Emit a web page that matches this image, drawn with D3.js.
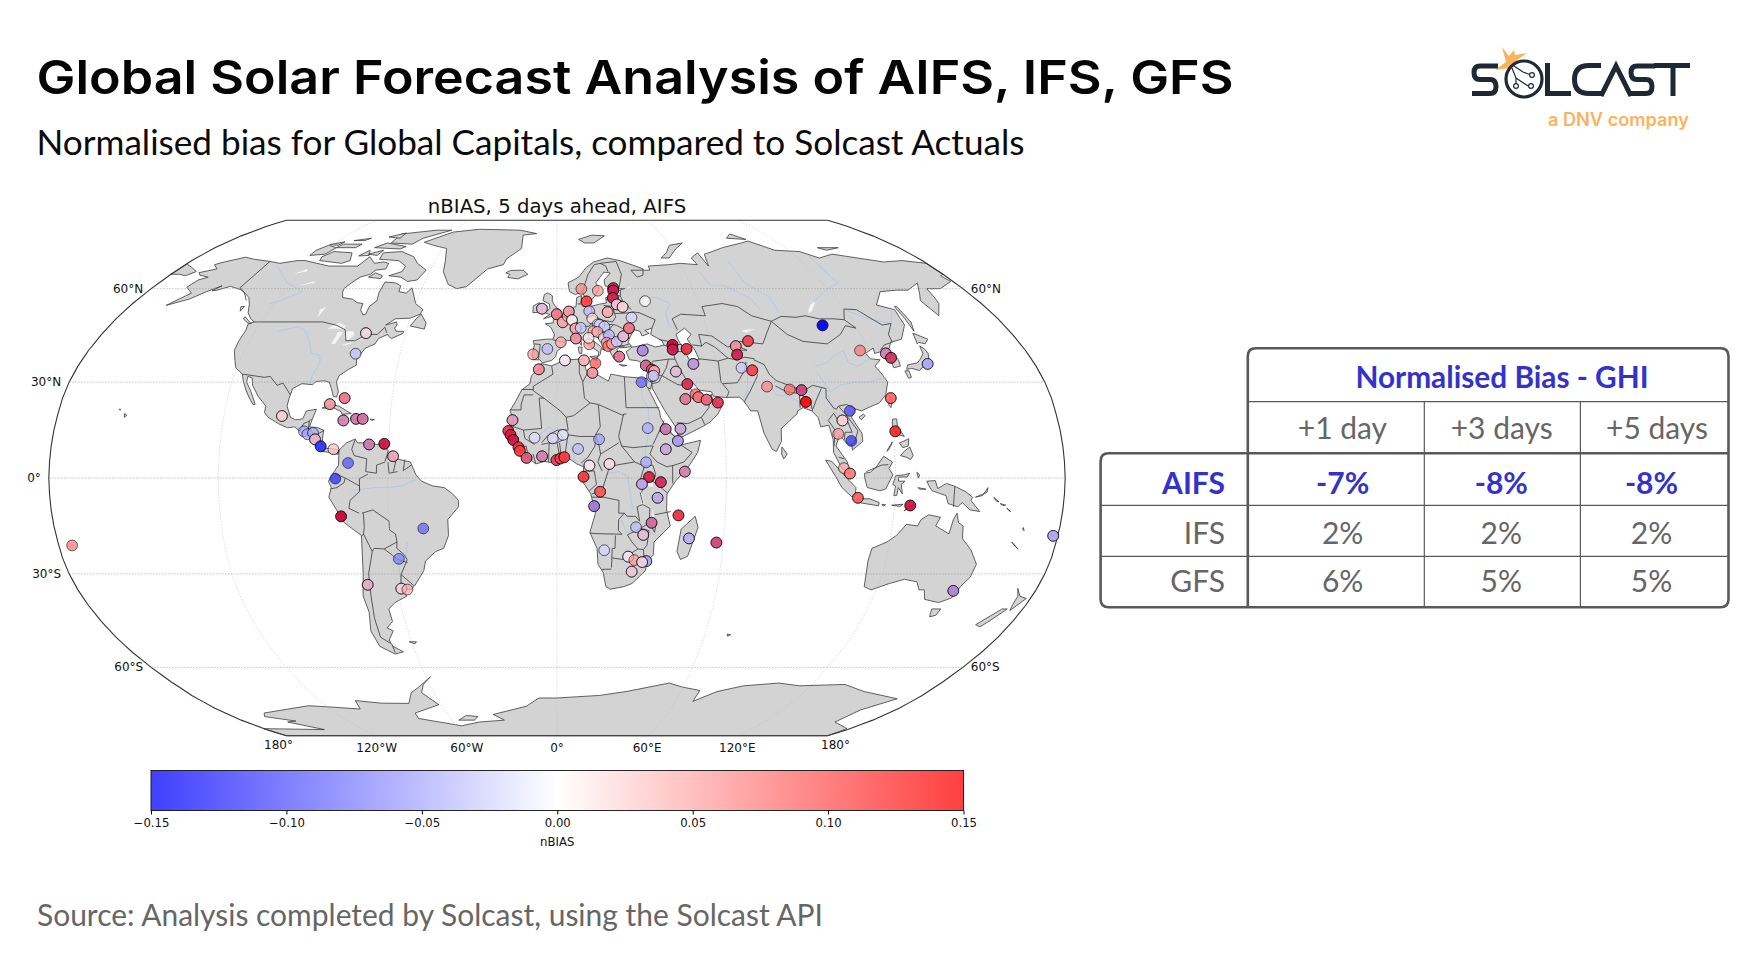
<!DOCTYPE html>
<html>
<head>
<meta charset="utf-8">
<title>Global Solar Forecast Analysis</title>
<script src="https://cdn.jsdelivr.net/npm/d3@7"></script>
<style>
  body { margin: 0; background: #fff; }
  text { font-family: "Lato", sans-serif; }
  .mpl text, text.mpl { font-family: "DejaVu Sans", sans-serif; }
</style>
</head>
<body>
<div id="chart"></div>
<script>
// ---- text ----
const titleText = "Global Solar Forecast Analysis of AIFS, IFS, GFS";
const subtitleText = "Normalised bias for Global Capitals, compared to Solcast Actuals";
const sourceText = "Source: Analysis completed by Solcast, using the Solcast API";
const mapTitle = "nBIAS, 5 days ahead, AIFS";
const barLabel = "nBIAS";

// ---- table ----
const tableHeader = "Normalised Bias - GHI";
const horizons = ["+1 day", "+3 days", "+5 days"];
const models = ["AIFS", "IFS", "GFS"];
const aifsBias = ["-7%", "-8%", "-8%"];
const ifsBias = ["2%", "2%", "2%"];
const gfsBias = ["6%", "5%", "5%"];

// ---- axes ----
const barTicks = [-0.15, -0.10, -0.05, 0, 0.05, 0.10, 0.15];
const latTicks = [60, 30, 0, -30, -60];
const lonTicks = [-120, -60, 0, 60, 120];

// ---- capitals: name, lon, lat, bias, bias of the marker lying under it ----
const capitalsAmericas = [
  ["Ottawa", -75.7, 45.4, 0.02, -0.04], ["Washington", -77, 38.9, -0.035],
  ["Havana", -82.4, 23.1, 0.07, -0.03], ["Nassau", -77.3, 25, 0.09, -0.05],
  ["Kingston", -76.8, 18, 0.06, -0.12], ["Port-au-Prince", -72.3, 18.5, 0.06, -0.15], ["Santo Domingo", -69.9, 18.5, 0.07, -0.13],
  ["Mexico City", -99.1, 19.4, 0.03, -0.02], ["Guatemala", -90.5, 14.6, -0.05], ["San Salvador", -89.2, 13.7, -0.055],
  ["Tegucigalpa", -87.2, 14.1, -0.05], ["Managua", -86.3, 12.1, 0.04, -0.06], ["San Jose", -84.1, 9.9, -0.13, -0.08],
  ["Panama", -79.5, 9, 0.035], ["Bogota", -74.1, 4.7, -0.1], ["Quito", -78.5, -0.2, -0.125],
  ["Lima", -77, -12, 0.15, -0.15], ["Caracas", -66.9, 10.5, 0.06, -0.15], ["Port of Spain", -61.5, 10.7, 0.14, -0.14],
  ["Georgetown", -58.2, 6.8, 0.05, -0.06], ["Brasilia", -47.9, -15.8, -0.09], ["Asuncion", -57.6, -25.3, -0.075],
  ["Santiago", -70.7, -33.4, 0.04, -0.08], ["Buenos Aires", -58.4, -34.6, 0.025, -0.04], ["Montevideo", -56.2, -34.9, 0.05],
  ["Nukualofa", -175.2, -21.1, 0.08]
];
const capitalsEurope = [
  ["Dublin", -6.3, 53.3, 0.03, -0.08], ["London", -0.1, 51.5, 0.09, -0.03], ["Paris", 2.3, 48.9, 0.06, -0.02],
  ["Brussels", 4.4, 50.8, 0.05], ["Amsterdam", 4.9, 52.4, 0.07, -0.02], ["Lisbon", -9.1, 38.7, 0.06],
  ["Madrid", -3.7, 40.4, -0.04], ["Andorra", 1.5, 42.5, 0.05], ["Oslo", 10.8, 59.9, 0.07], ["Copenhagen", 12.6, 55.7, 0.13, 0.05],
  ["Stockholm", 18, 59.3, 0.06], ["Helsinki", 25, 60.2, 0.12, -0.12], ["Tallinn", 24.8, 59.4, 0.13, -0.15],
  ["Riga", 24.1, 56.9, 0.13, -0.13], ["Vilnius", 25.3, 54.7, 0.03, -0.06], ["Minsk", 27.6, 53.9, 0.03, -0.01],
  ["Moscow", 37.6, 55.8, 0.002], ["Warsaw", 21, 52.2, 0.06, -0.01], ["Berlin", 13.4, 52.5, -0.04],
  ["Prague", 14.4, 50.1, 0.02], ["Vienna", 16.4, 48.2, -0.02], ["Bratislava", 17.1, 48.1, -0.03], ["Budapest", 19, 47.5, -0.03],
  ["Kyiv", 30.5, 50.4, -0.025], ["Luxembourg", 6.1, 49.6, 0.01, -0.02], ["Bern", 7.4, 46.9, 0.06, -0.02], ["Vaduz", 9.5, 47.1, -0.03],
  ["Ljubljana", 14.5, 46, 0.05], ["Zagreb", 16, 45.8, 0.05], ["Sarajevo", 18.4, 43.9, -0.02], ["Belgrade", 20.5, 44.8, -0.04],
  ["Podgorica", 19.3, 42.4, 0.07], ["Tirana", 19.8, 41.3, 0.09], ["Skopje", 21.4, 42, 0.05], ["Sofia", 23.3, 42.7, -0.03],
  ["Bucharest", 26.1, 44.4, 0.03, -0.08], ["Chisinau", 28.8, 47, 0.09, -0.05], ["Athens", 23.7, 38, 0.08, -0.08],
  ["Rome", 12.5, 41.9, 0.06], ["Monaco", 7.4, 43.7, 0.07, -0.05], ["San Marino", 12.4, 43.9, 0.01], ["Malta", 14.5, 35.9, 0.1]
];
const capitalsAfrica = [
  ["Rabat", -6.8, 34, 0.08, -0.02], ["Algiers", 3, 36.8, 0.01, -0.03], ["Tunis", 10.2, 36.8, 0.05, -0.02], ["Tripoli", 13.2, 32.9, 0.07, -0.03],
  ["Cairo", 31.2, 30, -0.09], ["Nouakchott", -16, 18.1, 0.05, -0.1], ["Dakar", -17.4, 14.7, 0.13, -0.08], ["Banjul", -16.6, 13.5, 0.14, -0.12],
  ["Bissau", -15.6, 11.9, 0.14, -0.13], ["Conakry", -13.7, 9.6, 0.14, -0.05], ["Freetown", -13.2, 8.5, 0.14, 0.02], ["Monrovia", -10.8, 6.3, 0.1, -0.1],
  ["Bamako", -8, 12.6, -0.02], ["Yamoussoukro", -5.3, 6.8, 0.06, -0.13], ["Ouagadougou", -1.5, 12.4, -0.025], ["Niamey", 2.1, 13.5, -0.015],
  ["Accra", -0.2, 5.6, 0.12, -0.08], ["Lome", 1.2, 6.1, 0.13, -0.05], ["Porto-Novo", 2.6, 6.5, 0.14, 0.02], ["Abuja", 7.5, 9.1, -0.04],
  ["NDjamena", 15, 12.1, -0.055], ["Yaounde", 11.5, 3.9, 0.01, -0.03], ["Bangui", 18.6, 4.4, 0.02, -0.03], ["Khartoum", 32.5, 15.6, -0.05],
  ["Juba", 31.6, 4.9, -0.05], ["Asmara", 38.9, 15.3, 0.06, -0.15], ["Djibouti", 43.1, 11.6, -0.06, 0.05], ["Addis Ababa", 38.7, 9, -0.04, 0.1],
  ["Mogadishu", 45.3, 2, 0.06, -0.13], ["Libreville", 9.4, 0.4, 0.14, -0.03], ["Kampala", 32.6, 0.3, 0.14, -0.1], ["Kigali", 30.1, -1.9, -0.05, 0.06],
  ["Nairobi", 36.8, -1.3, 0.12, -0.15], ["Brazzaville", 15.3, -4.3, 0.11, 0.06], ["Luanda", 13.2, -8.8, -0.07, 0.12], ["Dodoma", 35.7, -6.2, -0.05, 0.05],
  ["Lilongwe", 33.8, -14, 0.07, -0.15], ["Lusaka", 28.3, -15.4, -0.04], ["Harare", 31, -17.8, 0.03, -0.08], ["Windhoek", 17.1, -22.6, -0.025],
  ["Gaborone", 25.9, -24.6, 0.01, -0.03], ["Pretoria", 28.2, -25.7, 0.06], ["Maputo", 32.6, -26, -0.06, 0.02], ["Mbabane", 31.1, -26.3, 0.02, -0.05],
  ["Maseru", 27.5, -29.3, 0.03, -0.05], ["Antananarivo", 47.5, -18.9, -0.05, 0.03], ["Port Louis", 57.5, -20.2, 0.1, -0.15], ["Moroni", 43.3, -11.7, 0.14, -0.05]
];
const capitalsAsia = [
  ["Ankara", 32.9, 39.9, -0.06, 0.1], ["Nicosia", 33.4, 35.2, 0.08, -0.13], ["Beirut", 35.5, 33.9, 0.1, -0.08], ["Damascus", 36.3, 33.5, 0.06, 0.02],
  ["Jerusalem", 35.2, 31.8, -0.04], ["Amman", 35.9, 32, -0.03], ["Tbilisi", 44.8, 41.7, 0.15, -0.14], ["Yerevan", 44.5, 40.2, 0.13, -0.15],
  ["Baku", 49.9, 40.4, 0.14, -0.06], ["Tehran", 51.4, 35.7, -0.05, 0.1], ["Baghdad", 44.4, 33.3, 0.03, -0.08], ["Kuwait", 48, 29.4, 0.13, -0.1],
  ["Riyadh", 46.7, 24.7, 0.08, -0.08], ["Manama", 50.6, 26.2, 0.09], ["Doha", 51.5, 25.3, 0.1, -0.02], ["Abu Dhabi", 54.4, 24.5, 0.1, -0.05],
  ["Muscat", 58.4, 23.6, 0.13, -0.08], ["Sanaa", 44.2, 15.4, -0.04, 0.1], ["Kabul", 69.2, 34.5, -0.03], ["Tashkent", 69.2, 41.3, 0.07, -0.05],
  ["Dushanbe", 68.8, 38.6, 0.13, -0.14], ["Bishkek", 74.6, 42.9, 0.13, -0.04], ["Islamabad", 73, 33.7, 0.13, -0.03], ["New Delhi", 77.2, 28.6, 0.07],
  ["Kathmandu", 85.3, 27.7, 0.09], ["Thimphu", 89.6, 27.5, 0.1, -0.15], ["Dhaka", 90.4, 23.8, 0.15, 0.14], ["Ulaanbaatar", 106.9, 47.9, -0.15, -0.15],
  ["Beijing", 116.4, 39.9, 0.08], ["Pyongyang", 125.8, 39, 0.06, -0.13], ["Seoul", 127, 37.6, 0.12, -0.12], ["Tokyo", 139.7, 35.7, -0.06, -0.01],
  ["Taipei", 121.5, 25, 0.1, 0.05], ["Manila", 121, 14.6, 0.15, 0.03], ["Hanoi", 105.8, 21, -0.11], ["Vientiane", 102.6, 18, 0.03, -0.01],
  ["Bangkok", 100.5, 13.8, 0.06], ["Phnom Penh", 104.9, 11.6, -0.12], ["Kuala Lumpur", 101.7, 3.1, 0.05], ["Singapore", 103.8, 1.4, 0.09, 0.03],
  ["Jakarta", 106.8, -6.2, 0.11, 0.04], ["Dili", 125.6, -8.6, 0.14, -0.14]
];
const capitalsOceania = [["Canberra", 149.1, -35.3, -0.06, 0.12], ["Suva", 178.4, -18.1, -0.06, 0.02]];

// ---- land outlines, "lon,lat lon,lat ..." ----
const landContinents = [
  "-168,65.6 -164,66.5 -162,67 -166,68.5 -163,69.5 -156,71.3 -150,70.5 -141,69.7 -135,69 -128,70 -124,70 -117,69 -110,68 -102,68 -96,68 -94,71.5 -89,69 -85,69.5 -82,69 -81.5,67 -86,66.5 -87,65 -91,64 -93,62 -94.5,60 -94,58.7 -92.5,57 -88,56.5 -85,55.3 -82.3,55 -82,53 -80,51.3 -79,51.5 -79,54 -77,56 -78,58.5 -78,62.3 -73,62 -70,61 -69.5,59 -66,58.5 -64.5,60.3 -62,57.5 -60,55 -56,53 -56.5,51.5 -60,50.2 -66,50 -69,48 -65,49 -64.5,48 -65,47 -64,46 -61,46 -61,45.3 -65,43.7 -66.5,44.5 -67,45 -70,43.7 -70.7,42 -74,40.6 -75.5,38 -76,37 -75.5,35.3 -78,34 -81,32 -81.4,30 -80,27 -80.3,25.3 -81.5,25.5 -82.8,28 -84,30 -86,30.4 -89,30.2 -90,29.2 -94,29.5 -97,28 -97.5,25 -97.8,22.5 -96,19 -94,18.2 -91.5,18.5 -90.5,21 -87,21.5 -88,18.5 -88.7,16 -86,15.8 -83.5,15 -83.7,11 -82.5,9.3 -80,9.2 -77.5,8.7 -78,7.5 -80,7.5 -81,8 -83,8.3 -85.7,10 -87.5,13 -91,14 -94,16 -96.5,15.7 -100,17 -104,19 -105.6,20.5 -105.5,22.5 -109,25.6 -112,29 -113,31.3 -114.8,31.8 -114.5,30 -112,27 -110,24 -109.5,23 -110.2,23 -112,25 -114,27.5 -116,30.5 -117.1,32.5 -120.5,34.5 -122,36.8 -124,40 -124.3,43 -124,46.2 -124.7,48.4 -122.8,49 -125,50 -128,52 -130.3,54.8 -133,57 -137,58.7 -140,59.7 -146,60.8 -150,59.5 -152,59.3 -150,61 -154,59 -158,56.5 -165,54.4 -160,58.5 -165,60.5 -164,63 -161,64 -166,64.7",
  "-77.5,8.7 -75,11 -72,12.2 -71,11 -68,11 -64,10.5 -62,10.7 -60,8.5 -57,6 -52,5 -50,1 -48,-1 -44,-2.5 -40,-3 -37,-5 -35,-7 -35,-9 -39,-13 -39,-18 -41,-22 -44,-23 -48,-26 -49,-29 -53,-33.5 -55,-35 -58,-34.3 -57,-37 -62,-39 -65,-41 -65,-45 -68,-47 -66,-48 -69,-51 -68.5,-53 -65,-54.8 -69,-55.5 -74,-53 -75,-48 -73,-42 -73.5,-37 -71.5,-30 -70.3,-18 -76,-14 -81,-6 -80,-3 -81,-1 -79,2 -77.5,4 -77.5,7",
  "-6,35.8 -2,35.1 3,36.9 10,37.3 11,33.5 15,32.3 19,30.3 20,32.5 25,31.7 32,31.2 32.5,30 34,27 35.5,24 37,21 37.3,19 39,16 43,12 43.2,11.5 44.5,10.4 51.2,11.8 50,8 47,4 42,-1 39,-5 39,-10 40.5,-15 35,-20 35,-24 33,-26 32.5,-29 28,-33 25,-34 20,-34.8 18.3,-34 17,-29.5 15,-27 14.5,-22 11.8,-17 13.7,-11 12,-5 9,-1 9.5,3.5 7,4.4 4,6.3 1,5.8 -2,4.8 -4.5,5.2 -7.5,4.4 -11,6.8 -13.3,9 -15,11 -16.7,12.5 -17.5,14.7 -16.3,16.5 -16,19 -17,21 -15,24 -13,27.5 -10,29.5 -9.5,32 -7,34",
  "-9,37 -9.5,38.7 -8.8,41.5 -9.3,43 -4,43.5 -1.5,43.5 -1,45 -2.5,47.3 -4.7,48.4 -1.5,48.7 -1.5,49.7 2,51 4,52 5,53.3 8,54 8.5,57 10.6,57.7 10.5,56 10,54.8 11,54 14,54 18,54.8 21,55.2 21,57 24,57.3 24,58.8 28,59.6 30,60 25,60.2 21.5,61 21.5,63 25,65.5 22,65.8 17.5,62 18.8,60 16.5,57.5 14.5,56 13,55.4 11,59 8,58 5.5,59 5,62 10,64 14,67.5 18,69.5 25,71 31,70 41,67 40,64.7 37,64 35,66.5 44,66.5 44,68 54,68.5 60,69 68,68.5 67,71 72,73 73,68 75,72.5 80,73.5 87,75 100,77 105,77.8 113,74 125,73.5 131,71 140,72.5 150,71 160,69.5 170,70 180,69 180,65 178,64.5 179,62.5 170,60 164,60 163,57 162,55 157,51 155.5,56 158,58 163,62 155,59.5 150,59.5 142,59 135,54.5 141,53 140,48 135,43.5 130,42.5 127.5,40 129.5,37 129,35 126.3,34.5 126.5,37.5 125,38 125,39.7 121.5,39 122,40.7 118,39 119,37.3 122.5,37 119.5,35 121,32.5 122,30 120,26 117,23.5 113.5,22.3 110,21 108,21.6 106,19 109,14 109,11.5 105,8.7 105,10 103,11 100.9,13.4 99.3,10 103,5 103.8,1.4 101,3 98.3,8 98.5,12 97.5,16.5 94.5,16 94,19 92,21 89,22 87,21 86.5,20 80.3,15.5 80,11.5 78,8.3 76.5,9 74,14 72.8,19.5 72.5,21 70,21 69,22.5 67.5,24.5 66.5,25.3 61.5,25.2 57,25.6 56.5,27 52,27.5 50,30 48.5,30 48,29.5 50,26.5 51,26 51.5,25 52,24 54.5,24.2 56.3,26.2 56.6,24.5 59.8,22.5 58,20 55,17.5 52,16 45,13 43.4,12.7 42.5,16 39,21 35,28 34.9,29.5 34.3,27.8 33,28.5 32.6,30 32.3,31.2 34.3,31.3 35,33 36,36 32,36 30.5,36.7 27.5,37 26.5,39.5 29,41 31,41.2 35,42 38,41 41.5,41.6 41,43 37,45 38,47 35,46.3 36.5,45.3 33.5,44.5 33,46 30.7,46.5 28.6,44 27.7,42.5 28.9,41.2 26,40.8 24,40.8 23,40.3 24,38 23,36.5 21.5,37.5 19.5,41 19.3,42 15,44.5 13.7,45.5 12.3,45.3 12.5,44 16,41.8 18.5,40 17,40.5 16.6,38.8 15.7,38 16,39.5 12.5,41.5 10.3,43 8.8,44.4 6,43 3,43.2 3.2,41.8 0,39.7 -0.5,38 -2,36.8 -5.5,36 -6.5,37",
  "114,-22 113.5,-26 115,-34 118,-35 124,-33 129,-31.7 134,-32.5 136,-35 138,-35 140,-38 146,-39 150,-37.5 151,-34 153,-31 153.5,-27 150,-22.5 146,-19 145.3,-15 143.5,-14 142.5,-11 141.5,-13 140.8,-17.5 135.5,-15 136.8,-12.3 132.5,-11.5 130,-13 129,-15 125,-14.5 122,-18 119,-20",
  "-180,-90 -180,-84.5 -144,-85 -156,-81 -150,-80.5 -162.6,-78.5 -159,-77 -146,-75.7 -129,-74 -118,-74.5 -104,-75.3 -102,-72 -90,-73 -76,-73.1 -71,-69 -66,-67 -58,-63.3 -63,-66 -66,-69 -61,-73.6 -77,-77 -78,-79.3 -57,-83 -45,-81 -30,-80 -35,-77.6 -16,-74.2 -9,-71 0,-71 21,-70 33.5,-68.6 52.6,-65.5 60,-67 69,-68.2 69,-72.3 77.6,-68.6 88.5,-66.5 104,-65.5 115,-66.5 135.7,-66 149,-68.6 170.5,-71.3 161.4,-75.7 161,-81 178,-84.5 180,-90"
];
const landIslands = [
  "-50,-78 -44,-78.5 -47,-80 -56,-80",
  "-180,68.8 -175,67.5 -170,66 -172.5,64.5 -176,65 -180,65",
  "-72.4,77.3 -61,82 -46.7,83.5 -22,83 -11.8,81.2 -19.4,80.4 -18.6,74.7 -25,70.7 -26,68.5 -33,67 -40.5,60.7 -44.5,60 -49,61.5 -53.5,65.9 -55,70 -57.9,74.7 -66,76",
  "-80,73.5 -72,71.5 -68,69 -62,66.5 -64,63 -68,62.5 -72,64 -78,64.5 -73,66 -73,68 -78,70 -88,70.5 -89,73",
  "-117,70 -105,69 -102,70 -105,73 -115,73.5 -118,71.5", "-125,72 -118,72.5 -116,75 -122,76 -125,74",
  "-90,77 -78,76.5 -75,79 -63,83 -72,83 -90,81", "-96,75 -82,74.5 -80,75.5 -92,77", "-116,75 -106,75 -105,76.5 -115,76.5",
  "-95,79.5 -88,81.5 -88,79", "-100,71.8 -97,74 -95,72", "-122,76.3 -116,77.5 -117,76", "-112,78 -104,79 -106,78", "-96,72.5 -90,74 -91,72",
  "-87,64 -81,63.5 -81,64.5 -85,65.5", "-59,47.7 -53,46.7 -53,48.7 -56,51.5 -57.5,50", "-128,50.7 -123.5,48.4 -125,48.6 -128,50", "-133,54 -131.5,54 -131.8,52.5",
  "-85,21.9 -82,23 -79,22.5 -75,20.5 -74.2,20.2 -77.5,19.9 -78,20.8 -81,22 -84,21.8", "-74.4,18.5 -73,19.9 -70,19.7 -68.4,18.6 -71,18",
  "-78.3,18.3 -76.3,18.2 -77,17.8", "-67.2,18.4 -65.7,18.3 -66.5,18", "-156,20.2 -155,19.6 -155.8,19", "-158.2,21.6 -157.7,21.4 -158,21.2", "-61,-51.5 -58,-51.5 -59,-52.2",
  "-5.5,50 -3,50.6 1.3,51.2 1.7,52.7 0,53.5 -1.5,55 -2,56 -2,57.6 -4,58.6 -5.5,58 -6,56 -3.2,54.8 -3,53.3 -5,52 -3,51.4",
  "-10,52 -6.2,52.2 -6,54 -7.5,55.3 -10,54.2", "-24,65.5 -22,66.4 -16,66.5 -13.6,65 -18,63.4 -22.7,63.9 -22,65",
  "12,78.5 20,80.4 27,80 20,77 15,77", "52,71 56,73 60,76 68,77 62,74.5 56,71", "95,79 105,78.5 100,81", "137,75 148,75 140,74",
  "142,46 143.5,49 143,54 142,54 142,50", "130.9,34 132,35.4 136,36 138,37.3 140,39 140.4,41.3 141.5,40.5 142,39 141,37 140.8,35.7 139.8,35 137,34.6 135.5,33.6 133,34.3",
  "140,42 141,45.4 145.3,43.5 143,42 141,42.5", "130,33.5 131.5,33.6 131.5,31.5 130.3,31.2", "120.2,23 121.5,25.2 122,24.8 120.9,22", "108.7,19 110.5,20 111,19.5 109.5,18.2",
  "120.3,16.2 120.7,18.4 122.2,18.5 122,16 124,13 121,13.8", "122,7 123.6,8.5 125.5,9.7 126.5,7 125.5,5.8 124,6.5", "122,11 123.5,11.5 125.5,12.3 125,10 123,9.5", "117.2,8.4 119.5,11.3 119,10.4 117.8,8.7",
  "95.3,5.6 97.5,5.2 100.5,2.2 103.7,-1 106,-3 105.8,-5.8 104.5,-5.8 101,-3 98.7,0.5", "105.3,-6.8 108.5,-6.5 111,-6.5 114.5,-7.7 114.3,-8.7 108,-7.8",
  "109,1.5 111,1.8 113,3.2 116,6.8 119,5 117.7,3 119,1 116.5,-3.5 114.5,-4 110,-3 109,0", "119.5,-5.5 120,-2.5 119,-2 120,0.7 123,1 125,1.5 124,0.3 121,0.3 121,-1 123.3,-1 122,-2 122.5,-5 121,-3 120.5,-5.5",
  "131,-1 134,-0.8 135,-3.3 138,-1.7 141,-2.6 145,-4.3 147.5,-6 147,-7 150.5,-10.5 147,-10 144,-7.7 142.5,-9 139,-8 138,-5.5 133,-4 132,-2.7",
  "123.5,-10.3 127,-8.4 125,-9", "119,-8.5 123,-8.2 122,-8.9", "115.5,-8.2 116.8,-8.4 116,-8.8", "128,-3 130.8,-3.5 128.5,-3.5", "127.5,1.8 128.5,1 128,0", "148.5,-6 152.5,-4.5 152.8,-3 151,-5.5", "155,-6 157,-7.5 156,-7.2", "157.5,-8 159.5,-8.5 158.5,-8.6", "160,-9.4 161.5,-10.5 160.8,-10.2", "167,-15.5 167.5,-16.5 166.8,-16",
  "164,-20 167,-22.3 164.5,-20.5", "177.3,-18 178.5,-17.5 178.5,-18.2", "144.8,-41 148.3,-41 148,-43 146,-43.5", "166.5,-46 172,-41 174,-41 171,-44.5 169,-46.7",
  "172.8,-34.5 175.5,-37 178.5,-37.7 175.5,-41.5 174.8,-39.5 174.7,-37", "49.3,-12 50.5,-15.5 47.5,-24.5 45,-25.5 43.5,-23 44.5,-16", "80,9.7 81.8,7.5 80.5,6 79.8,7.5",
  "12.5,38 15.5,38.2 15,36.7", "8.2,41 9.7,41 9.5,39 8.5,39", "8.6,42.5 9.4,43 9.5,41.5", "23.5,35.5 26.3,35.2 24.8,35", "32.3,35 34.5,35.6 33.5,34.7", "69,-49 70.5,-49.2 69.5,-49.7"
];
const seasInland = ["47,45 51,47 53,45 51,43.5 53,40 54,37 50,37.2 49,40 47.5,43"];
const lakes = [
  "-92,46.8 -88,48.7 -85,47.8 -85,46.6 -88,46.8", "-87.8,42 -87,45.8 -85,45.8 -86.3,42", "-84,46 -81,46 -80,44.7 -82,43 -83.5,44", "-83.3,41.7 -79,42.9 -79,42.7 -82,41.5",
  "-79.7,43.3 -76,44 -76.3,43.4", "-123,65 -119,67 -118,66", "-116,61 -110,62.7 -110,62", "-98,50.5 -97,54 -99,53", "104,51.7 106,52.5 110,55.5 109,55.8 105,53",
  "73.5,46 75,46.5 79,46.7 75,45.5", "32,-0.3 34,-0.5 34,-2.8 32,-2.5", "29.5,-4 30,-4 31,-8.5 30,-8", "34,-9.5 35,-14 34.5,-14 34,-12", "31,60 33,61 32,60"
];
const rivers = [
  "-111,46 -104,47.5 -100,46 -96,42 -94,39 -90.5,38.5 -89.5,36 -91,32 -91,30 -89.5,29.3", "-135,68 -128,65 -122,62 -115,60 -112,59 -118,56 -122,55",
  "-73,-4 -65,-3 -60,-3 -55,-2.5 -50,-0.5", "-58,-34 -58,-28 -55,-25 -54,-20", "31,31 31,25 33,22 33,16 32.5,13 31.5,9 31,4 33,0", "12.5,-6 16,-3 18,1.5 22,2 25,0.5 26,-5 27,-10",
  "-8,12 -3,16 1,14 5,10 6.5,5", "48,46 45,48 45,52 48,55 43,57 37,57", "67,66 69,61 75,61 83,57 85,53", "84,70 85,62 92,57 92,52", "127,72 127,62 120,60 108,55",
  "140,53 135,48.5 127,50 120,53", "122,31.5 115,30 110,30 104,29 100,27 97,33", "119,37.5 113,35 110,36 110,40 105,38 102,36 97,35", "89,23 85,25.5 80,26 78,30",
  "67.5,24 70,28 71,33 76,35", "106,10 105.5,15 103,18 100,21 99,26", "48,30 44,33 39,36", "29,45 22,44 19,46 17,48 10,48.5", "36,-18 30,-16 25,-17 23,-13"
];

// ---- country borders ----
const bordersAmericas = [
  "-141,69.7 -141,60.3 -137,58.7 -133,56", "-123,49 -95,49 -89,48 -84.5,46.5 -82.5,43 -79,43 -75,45 -71,45 -69,47.3 -67.5,45.5", "-117.1,32.5 -108.5,31.5 -106.5,31.8 -103,29 -101,29.7 -97.3,26",
  "-92,14.6 -91,17 -89,17.8 -88.3,18.5", "-89,17.8 -89,15 -88.2,15.7", "-89.3,14.2 -87.7,13.3", "-87.5,13 -85,14 -83.2,15", "-85.7,11 -83.7,11", "-83,8.3 -82.6,9.5", "-77.4,8.6 -77.9,7.2", "-71.7,19.8 -71.7,18",
  "-72,12 -73,9 -72,7 -67.5,6 -67.8,2", "-67,1.2 -70,-0.2 -70,-4.2", "-78.8,1.4 -75,0", "-75,0 -75.5,-1.5 -78,-3 -80.3,-3.4", "-75,0 -70,-2.5 -70,-4.2", "-70,-4.2 -73.5,-7 -74,-9.5 -70.5,-11", "-69,-11 -69,-15.5 -69.5,-17.5",
  "-69.5,-17.5 -70.4,-18.3", "-69.5,-11 -65.5,-10 -60,-13.5 -60,-16.3 -58,-17.5 -57.7,-20", "-57.7,-20 -62.6,-22.2", "-62.6,-22.2 -66.2,-22 -67,-23", "-69.5,-17.5 -67,-23", "-67,-23 -69.5,-30 -70.5,-37 -71.7,-44 -72,-50 -69,-52", "-68.6,-52.7 -68.6,-55",
  "-62.6,-22.2 -58,-25.5 -54.6,-26.5", "-57.7,-20 -58,-22 -55.5,-24 -54.6,-25.6", "-54.6,-25.6 -57.6,-30.2", "-57.6,-30.2 -53.5,-33.7", "-57.6,-30.2 -58.4,-34", "-60,8.5 -61,5.2", "-67.8,2 -64,1.5 -64,4 -61,5", "-60,5 -59.5,1.5 -56.5,2", "-57,6 -58,2", "-54,5.8 -54.5,2.3", "-54.5,2.3 -51.7,4"
];
const bordersAfrica = [
  "-2,35 -1.5,32.5 -8.7,28.7 -8.7,27.3", "-13,27.7 -8.7,27.7", "-8.7,27.3 -4.8,25 -6.5,25 -5.5,15.5 -12,15 -16.5,16.3", "-8.7,26 -12,26 -13,23 -13,21.3 -17,21.3", "-4.8,25 1.2,21 3.3,19", "3.3,19 6,19.5 12,23.5", "12,23.5 10,25 9.5,30", "8.5,37 8.3,33 9.5,30", "9.5,30 11.5,33",
  "25,31.7 25,22", "25,20 24,20", "24,19.5 15,23", "15,23 12,23.5", "15,23 15.5,16 13.7,13.5", "25,22 37,22", "24,20 22,13 23,10", "23,10 27,9.5 33,10 34.2,10", "36.5,14.5 34.2,10.5", "34.2,10 33,7.5 35.5,5", "36.5,14.5 38.5,18", "36.5,14.5 40,14.5 43,12.3",
  "43,11 48,8 45,5 41.5,4", "35.5,5 39,3.5 41.5,4", "41,3.9 41,-1.7", "34,4 35,1 34,-1", "34,-1 37.5,-3.5 39.2,-4.7", "31,3.7 34,4", "31,3.7 29.7,0 29.7,-1.3", "30,-1 34,-1", "29,-2.5 30.8,-2.4 30,-4.5", "29.5,-4.5 30.5,-8", "23,10 27.5,5", "27.5,5 31,3.7", "27.5,5 22,4.2 18.6,3.5",
  "22,11 15.5,7.5", "15.5,7.5 14.5,5 16,2.2", "15.5,7.5 15,10 14,13", "14,13 13.5,10 11,6.5 8.6,4.7", "14,13 8,13 4,13.5 3.6,11.7", "3.6,11.7 2.7,6.4", "0.9,11 1.6,6.2", "0,11 1.2,6", "-2.8,11 -3,5", "-5.5,10.5 -2.8,11 0,11 2.3,12 0.2,15 -3,13.5 -5.5,11", "4,15 3.3,19", "4,15 0.2,15",
  "-12,15 -11.5,12.5", "-11.5,12.4 -8,10.5", "-13,9.5 -11,10 -10.5,8 -11.5,7", "-8.5,7.5 -7.5,4.4", "-16.7,12.4 -13.7,12.5 -15,11", "9.8,2.2 13.2,2.2 14,-2 11.5,-4", "18.6,3.5 17,-1 16,-4 12.3,-5", "12.3,-6 16.5,-6 22,-7 22,-11 24,-11", "24,-11 25,-12 28,-12 29.5,-13.5 28.5,-9 30.5,-8.3",
  "24,-11 22,-13 22,-16.5 23.4,-17.6", "11.8,-17.2 14,-17.4 23.4,-17.6", "21,-18 21,-22 20,-22 20,-28", "20,-28.5 16.5,-28.6", "20,-25 24,-25.5 27,-23.5 29.3,-22.2", "25.3,-17.8 27,-20 29.3,-22.2", "25.3,-17.8 30,-15.7", "30,-15.7 33,-16.5 32.5,-21 31.3,-22.4", "31.3,-22.4 32,-26.8", "29.3,-22.2 31.3,-22.4",
  "33,-9.5 33,-14 35,-17 35.5,-14", "34.8,-11.5 40.5,-10.5", "30.5,-8.3 33,-9.5", "30,-15.7 33,-14"
];
const bordersAsia = [
  "34.3,31.3 34.9,29.5", "35,29.5 35.5,32.5", "35.7,32.7 39,32", "35,29.5 37.5,30 39,32", "39,32 44.5,29.2 46.5,29", "39,32 41,34.5 42.3,37.2", "36,36.5 42.3,37.2 44.8,37.2", "44.8,37.2 46,34 47.7,31 48.5,30", "44.8,37.2 44.5,39.7", "43,17.3 47,17 52,19", "53,16.7 52,19", "52,19 55,22 55.3,24 52,24", "55.3,24 56.4,25",
  "41.5,41.6 43.5,41 44.5,39.7", "40,43.4 44,42.7 46.5,41.8", "46.5,41.8 48.6,41.8", "44.8,39.7 48,39.5 48.9,38.4", "43.5,41 45,41 46,39", "54,37.3 61,36.6", "61,36.6 60.5,30 61,29.5", "61,29.5 63,27 61.7,25.1", "61,29.5 66.5,29.8 70,33.5 71.5,36.4", "61,36.6 65,37.5", "65,37.5 68,37 71.5,37.8 75,37.3", "68,23.8 71,27.5 74.5,32 74,35",
  "52.5,41.7 56,41.3 56,45 61,44.5 66,41 70,42 71,42.8 80,42", "56,41.3 58,42.5 61,41 65,37.5", "70.5,41 73,40 70,40", "48,46.5 47,50 51,51.5 61,51 61,54 70,55 76,54 80,51 87,49.2", "87,49.2 82.7,45 80,42", "87,49.2 92,50.8 98,50.5 102,51 107,50 113,50 117,49.7 119.7,47 116,47.8 112,45 105,42 96,42.8 91,45 87,49.2",
  "117,49.7 120,53.2 125,53 131,48 135,48.5 131,45 130.7,42.5", "124.3,40 127,41.7 130.5,42.5", "126.7,37.8 128.4,38.6", "108,21.6 105,23 102,22.5", "102,22.5 101,21.5 100,22 98,25 98.7,28", "98.7,28 94,29 92,28 88.8,27.5 88,28 81,30.5 79,32.5 78,35.5 74.5,37", "88,26.5 84,27 80.3,28.8", "88,22 88.5,26 92,25 92.3,21", "92.5,21.5 94,24 97,28",
  "98.6,10 99.5,15 97.5,18 100,20.4", "100,20 101,18 104.5,17.5 105.5,14.3", "102.5,12 103,14.3 105.5,14.3", "102,22.5 104,20 107.5,15 107.5,14.5", "107.5,14.5 106,11 104.5,10.4", "100,6.5 102,6", "109.6,2 115,4 117.5,4.2", "141,-2.6 141,-9"
];
const bordersEurope = [
  "-1.7,43.3 3.2,42.4", "-8.8,42 -6.5,41.8 -7,37.2", "2.5,51 6,49.5 8.2,49 7.5,47.6", "7.5,47.6 6,46.2 7,44 7.5,43.8", "6.8,46 10.4,46.8", "7,53.4 6,51", "14.2,54 14.8,51", "12,50.3 14.8,51", "9.6,47.6 13,47.6 13.8,48.7", "8.7,54.9 9.9,54.8", "14.8,51 18.8,49.5 22.5,49", "22.5,49 24,50.5 23.5,54", "19.6,54.4 23.5,54",
  "21,56.3 28,56", "24.5,57.9 27.5,57.5", "28,59.5 27.5,57.5 28,56", "28,56 31,53", "24,51.7 31,52", "31,52.3 34,52 40,49.7 38,47", "13.8,48.7 17,48.7", "17,48 22.5,48.2", "22.5,48.2 24,47.9 29,45.5", "27,48 30,46", "22.5,44 28.6,43.7", "22.5,48 20.3,46", "20.3,46 22.5,44 22.8,42.3", "22.8,41.3 26.2,41.5 28,42", "20.5,40 22.8,41.3 26.2,41",
  "19.3,42.2 20.5,42 20.5,40", "14,45.5 16,46.5 19,46 19.3,45", "15.8,45 19.3,45 18.5,42.5", "13.7,45.7 13.8,46.5", "16.5,47.7 16,46.7", "11.5,59 12.5,61.5 14.5,65 18,68.5 21,69", "24,66 23.5,68 21,69 29,69.7", "29,69.7 30,65 27.7,60.5"
];

// ---- Robinson tables ----
const robLat = d3.range(0, 91, 5);
const robPLN = [1, .9986, .9954, .99, .9822, .973, .96, .9427, .9216, .8962, .8679, .835, .7986, .7597, .7186, .6732, .6213, .5722, .5322];
const robPLE = [0, .062, .124, .186, .248, .31, .372, .434, .4958, .5571, .6176, .6769, .7346, .7903, .8435, .8936, .9394, .9761, 1];

const width = 1757, height = 965;
const plnScale = d3.scaleLinear().domain(robLat).range(robPLN);
const pleScale = d3.scaleLinear().domain(robLat).range(robPLE);

function robinsonRaw(lambda, phi) {
    let deg = Math.abs(phi) * 180 / Math.PI;
    return [0.8487 * plnScale(deg) * lambda, 1.3523 * pleScale(deg) * (phi < 0 ? -1 : 1)];
}
const projection = d3.geoProjection(robinsonRaw).scale(190.6).translate([557, 478]);
const projLine = d3.line().x(d => projection(d)[0]).y(d => projection(d)[1]);
const parse = s => s.trim().split(/\s+/).map(p => p.split(",").map(Number));

const biasColor = d3.scaleLinear().domain([-0.15, 0, 0.15]).range(["#0000ff", "#ffffff", "#ff0000"]).clamp(true);

const svg = d3.select("#chart").append("svg").attr("width", width).attr("height", height);

// header
svg.append("text").attr("x", 36.5).attr("y", 94).attr("textLength", 1197).attr("lengthAdjust", "spacingAndGlyphs")
    .style("font-family", "Inter, sans-serif").style("font-weight", 600).style("font-size", "47px").attr("fill", "#050505").text(titleText);
svg.append("text").attr("x", 36.5).attr("y", 155).attr("textLength", 988).attr("lengthAdjust", "spacingAndGlyphs")
    .style("font-size", "35px").attr("fill", "#0a0a0a").text(subtitleText);
svg.append("text").attr("x", 37).attr("y", 926).attr("textLength", 786).attr("lengthAdjust", "spacingAndGlyphs")
    .style("font-size", "30px").attr("fill", "#666").text(sourceText);

// map
const map = svg.append("g").attr("class", "mpl");
const ring = s => projLine(parse(s)) + "Z";

map.selectAll(".land").data(landContinents.concat(landIslands)).enter().append("path")
    .attr("class", "land").attr("d", ring)
    .attr("fill", "#d3d3d3").attr("stroke", "#3c3c3c").attr("stroke-width", 0.8).attr("stroke-linejoin", "round");
map.selectAll(".sea").data(seasInland).enter().append("path").attr("d", ring)
    .attr("fill", "#fff").attr("stroke", "#3c3c3c").attr("stroke-width", 0.8);
map.selectAll(".lake").data(lakes).enter().append("path").attr("d", ring)
    .attr("fill", "#f4f4f4").attr("stroke", "none");
map.selectAll(".river").data(rivers).enter().append("path").attr("d", s => projLine(parse(s)))
    .attr("fill", "none").attr("stroke", "#a9c6e8").attr("stroke-width", 0.8);
map.selectAll(".border").data(bordersAmericas.concat(bordersAfrica, bordersAsia, bordersEurope)).enter().append("path")
    .attr("d", s => projLine(parse(s)))
    .attr("fill", "none").attr("stroke", "#4a4a4a").attr("stroke-width", 0.9).attr("stroke-linejoin", "round");

// gridlines
latTicks.forEach(lat => {
    map.append("path").attr("d", projLine(d3.range(-180, 181, 10).map(l => [l, lat])))
        .attr("fill", "none").attr("stroke", "#999").attr("stroke-width", 0.6).attr("stroke-dasharray", "1.5,1.5");
});
lonTicks.forEach(lon => {
    map.append("path").attr("d", projLine(d3.range(-90, 90.1, 5).map(l => [lon, l])))
        .attr("fill", "none").attr("stroke", "#bbb").attr("stroke-width", 0.5).attr("stroke-dasharray", "1.5,1.5");
});

// outline of the globe
let outline = d3.range(90, -90.1, -2.5).map(l => [180, l]).concat(d3.range(-90, 90.1, 2.5).map(l => [-180, l]));
map.append("path").attr("d", projLine(outline) + "Z").attr("fill", "none").attr("stroke", "#333").attr("stroke-width", 1.1);

// capitals, the older marker first
let capitals = capitalsAmericas.concat(capitalsEurope, capitalsAfrica, capitalsAsia, capitalsOceania);
let layers = [];
capitals.forEach(c => {
    if (c[4] !== undefined) layers.push({lon: c[1], lat: c[2], bias: c[4]});
    layers.push({lon: c[1], lat: c[2], bias: c[3]});
});
map.selectAll(".capital").data(layers).enter().append("circle")
    .attr("class", "capital")
    .attr("cx", d => projection([d.lon, d.lat])[0])
    .attr("cy", d => projection([d.lon, d.lat])[1])
    .attr("r", 5.4)
    .attr("fill", d => biasColor(d.bias))
    .attr("stroke", "#000").attr("stroke-width", 0.8)
    .attr("opacity", 0.75);

// map labels
map.append("text").attr("x", 557).attr("y", 213).attr("text-anchor", "middle")
    .style("font-size", "19.7px").attr("fill", "#111").text(mapTitle);

const latLabel = lat => Math.abs(lat) + "°" + (lat > 0 ? "N" : lat < 0 ? "S" : "");
const lonLabel = lon => Math.abs(lon) + "°" + (lon > 0 ? "E" : lon < 0 ? "W" : "");
latTicks.forEach(lat => {
    let left = projection([-180, lat]), right = projection([180, lat]);
    map.append("text").attr("x", left[0] - 8).attr("y", left[1] + 4).attr("text-anchor", "end")
        .style("font-size", "12px").attr("fill", "#111").text(latLabel(lat));
    if (Math.abs(lat) == 60) {
        map.append("text").attr("x", right[0] + 8).attr("y", right[1] + 4)
            .style("font-size", "12px").attr("fill", "#111").text(latLabel(lat));
    }
});
lonTicks.forEach(lon => {
    let p = projection([lon, -90]);
    map.append("text").attr("x", p[0]).attr("y", p[1] + 16.5).attr("text-anchor", "middle")
        .style("font-size", "12px").attr("fill", "#111").text(lonLabel(lon));
});
[-180, 180].forEach(lon => {
    let p = projection([lon, -90]);
    map.append("text").attr("x", p[0] + (lon < 0 ? -8 : 8)).attr("y", p[1] + 13.5).attr("text-anchor", "middle")
        .style("font-size", "12px").attr("fill", "#111").text("180°");
});

// colour bar
const barX = d3.scaleLinear().domain([-0.15, 0.15]).range([151, 963.5]);
const barTop = 770.5, barH = 40;
const grad = svg.append("defs").append("linearGradient").attr("id", "barGrad");
grad.selectAll("stop").data(barTicks).enter().append("stop")
    .attr("offset", d => (barX(d) - barX(-0.15)) / (barX(0.15) - barX(-0.15)))
    .attr("stop-color", d => biasColor(d)).attr("stop-opacity", 0.75);
svg.append("rect").attr("x", barX(-0.15)).attr("y", barTop).attr("width", barX(0.15) - barX(-0.15)).attr("height", barH)
    .attr("fill", "url(#barGrad)").attr("stroke", "#111").attr("stroke-width", 0.9);
let barAxis = svg.append("g").attr("class", "mpl").attr("transform", `translate(0,${barTop + barH})`)
    .call(d3.axisBottom(barX).tickValues(barTicks).tickFormat(d3.format(".2f")).tickSize(4).tickPadding(4));
barAxis.select(".domain").remove();
barAxis.selectAll("text").style("font-size", "11.7px").attr("fill", "#111");
svg.append("text").attr("class", "mpl").attr("x", barX(0)).attr("y", 846).attr("text-anchor", "middle")
    .style("font-size", "11.7px").attr("fill", "#111").text(barLabel);

// table
const colX = [1100.6, 1247.8, 1424.3, 1580.4, 1728.5];
const rowY = [348.3, 401.7, 453.3, 505.3, 556.3, 607.3];
const horizonX = [1342.4, 1501.7, 1657];
const valueX = [1342.7, 1501.3, 1651.5];
const rowBase = [493.7, 543.8, 592];
const tableGrey = "#666", tableBlue = "#3333cc", edge = "#595959";
const table = svg.append("g");

const thin = (x1, y1, x2, y2) => table.append("line").attr("x1", x1).attr("y1", y1).attr("x2", x2).attr("y2", y2)
    .attr("stroke", edge).attr("stroke-width", 1.2);
thin(colX[1], rowY[1], colX[4], rowY[1]);
thin(colX[0], rowY[3], colX[4], rowY[3]);
thin(colX[0], rowY[4], colX[4], rowY[4]);
thin(colX[2], rowY[1], colX[2], rowY[5]);
thin(colX[3], rowY[1], colX[3], rowY[5]);

const r = 8;
let box = `M${colX[1]},${rowY[2]} V${rowY[0] + r} Q${colX[1]},${rowY[0]} ${colX[1] + r},${rowY[0]} H${colX[4] - r} Q${colX[4]},${rowY[0]} ${colX[4]},${rowY[0] + r}`
    + ` V${rowY[5] - r} Q${colX[4]},${rowY[5]} ${colX[4] - r},${rowY[5]} H${colX[0] + r} Q${colX[0]},${rowY[5]} ${colX[0]},${rowY[5] - r}`
    + ` V${rowY[2] + r} Q${colX[0]},${rowY[2]} ${colX[0] + r},${rowY[2]} H${colX[4]} M${colX[1]},${rowY[2]} V${rowY[5]}`;
table.append("path").attr("d", box).attr("fill", "none").attr("stroke", edge).attr("stroke-width", 2.6);

table.append("text").attr("x", 1502).attr("y", 388).attr("text-anchor", "middle")
    .style("font-size", "29.8px").style("font-weight", 700).attr("fill", tableBlue).text(tableHeader);
table.selectAll(".horizon").data(horizons).enter().append("text")
    .attr("x", (d, i) => horizonX[i]).attr("y", 438.7).attr("text-anchor", "middle")
    .style("font-size", "30px").attr("fill", tableGrey).text(d => d);
table.selectAll(".model").data(models).enter().append("text")
    .attr("x", 1225).attr("y", (d, i) => rowBase[i]).attr("text-anchor", "end")
    .style("font-size", "30px").style("font-weight", (d, i) => i == 0 ? 700 : 400)
    .attr("fill", (d, i) => i == 0 ? tableBlue : tableGrey).text(d => d);
[aifsBias, ifsBias, gfsBias].forEach((vals, j) => {
    table.selectAll(".v" + j).data(vals).enter().append("text")
        .attr("x", (d, i) => valueX[i]).attr("y", rowBase[j]).attr("text-anchor", "middle")
        .style("font-size", "30px").style("font-weight", j == 0 ? 700 : 400)
        .attr("fill", j == 0 ? tableBlue : tableGrey).text(d => d);
});

// logo
const logo = svg.append("g");
const dark = "#1e2a33", orange = "#fbb25e";
logo.append("path").attr("d", "M1495,70 L1506,62 L1502,47 L1509,56 L1514,50 L1515,55 L1527,53 L1517,60 L1520,66 L1510,68 Z").attr("fill", orange);
logo.append("path").attr("d", "M1498,66 H1480 Q1474,66 1474,72.5 Q1474,79.5 1480,79.5 H1490 Q1496,79.5 1496,86.5 Q1496,93.5 1490,93.5 H1472")
    .attr("fill", "none").attr("stroke", dark).attr("stroke-width", 5);
logo.append("circle").attr("cx", 1524).attr("cy", 79).attr("r", 18).attr("fill", "#fff").attr("stroke", dark).attr("stroke-width", 3.2);
logo.append("path").attr("d", "M1512,68 L1516,78 L1516,85 M1516,78 L1528,86 M1514,66 L1523,72 L1531,75")
    .attr("fill", "none").attr("stroke", dark).attr("stroke-width", 1.2);
[[1532, 75], [1516, 86], [1531, 86]].forEach(c => {
    logo.append("circle").attr("cx", c[0]).attr("cy", c[1]).attr("r", 2.4).attr("fill", "#fff").attr("stroke", dark).attr("stroke-width", 1.2);
});
logo.append("path").attr("d", "M1547.5,63 V93.5 H1571").attr("fill", "none").attr("stroke", dark).attr("stroke-width", 5);
logo.append("path").attr("d", "M1601,65.5 H1589 Q1574.5,65.5 1574.5,79.5 Q1574.5,93.5 1589,93.5 H1601").attr("fill", "none").attr("stroke", dark).attr("stroke-width", 5);
logo.append("path").attr("d", "M1601,96 L1616,66 L1631,96").attr("fill", "none").attr("stroke", dark).attr("stroke-width", 5);
logo.append("path").attr("d", "M1655,66 H1637 Q1631,66 1631,72.5 Q1631,79.5 1637,79.5 H1646 Q1652,79.5 1652,86.5 Q1652,93.5 1646,93.5 H1630")
    .attr("fill", "none").attr("stroke", dark).attr("stroke-width", 5);
logo.append("path").attr("d", "M1654,65.5 H1690 M1673,66 V96").attr("fill", "none").attr("stroke", dark).attr("stroke-width", 5);
logo.append("text").attr("x", 1548).attr("y", 126).attr("textLength", 141).attr("lengthAdjust", "spacingAndGlyphs")
    .style("font-family", "Inter, sans-serif").style("font-weight", 600).style("font-size", "18px").attr("fill", orange).text("a DNV company");
</script>
</body>
</html>
